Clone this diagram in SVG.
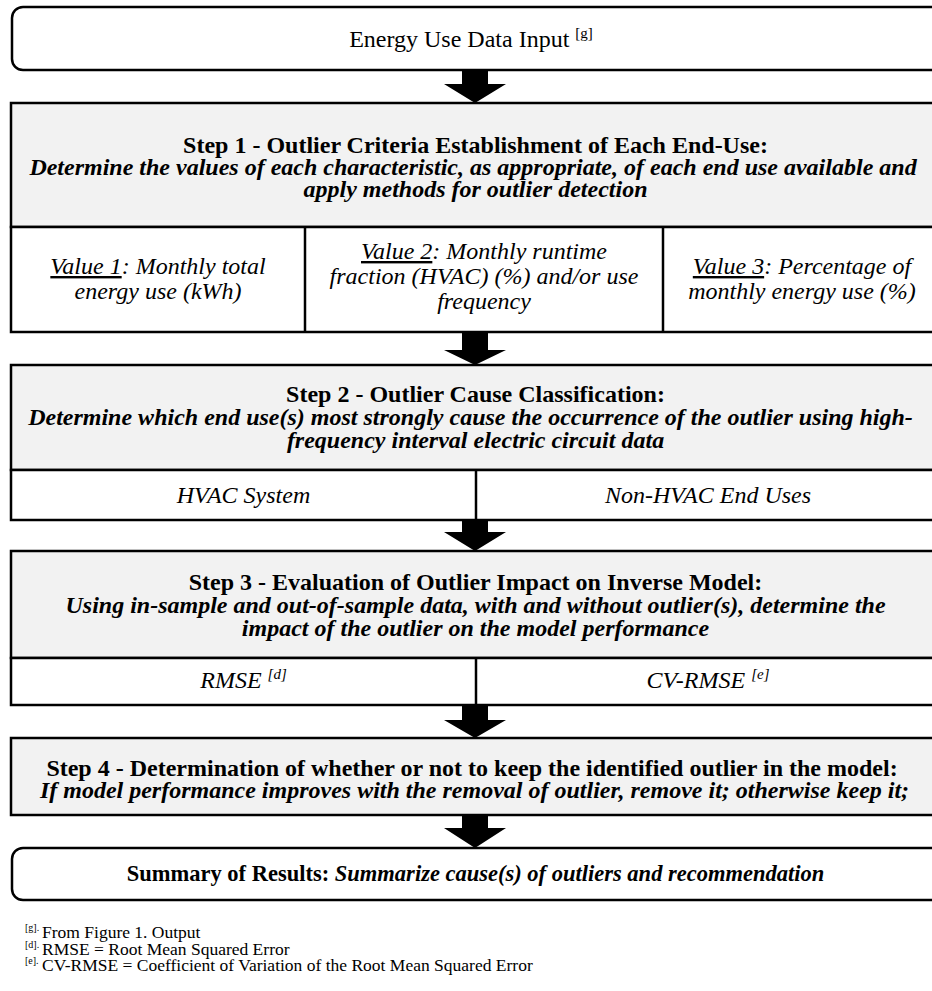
<svg xmlns="http://www.w3.org/2000/svg" width="932" height="991" viewBox="0 0 932 991">
<style>
  .box { stroke: #000; stroke-width: 2.5; }
  .hdr { fill: #f2f2f2; }
  .cell { fill: #ffffff; }
  .div { stroke: #000; stroke-width: 2.5; fill: none; }
  text { font-family: "Liberation Serif", "Times New Roman", serif; font-size: 24px; fill: #000; }
  .b { font-weight: bold; }
  .bi { font-weight: bold; font-style: italic; }
  .i { font-style: italic; }
  .u { text-decoration: underline; }
  .sup { font-size: 15px; }
  .sum { font-size: 22.5px; }
  .fn { font-size: 17.5px; }
  .fsup { font-size: 10px; }
  .arrow { fill: #000; }
</style>
<rect width="932" height="991" fill="#ffffff"/>

<g id="input">
  <rect class="box cell" x="12" y="7" width="932" height="63" rx="11"/>
  <text x="471" y="47" text-anchor="middle">Energy Use Data Input <tspan class="sup" dy="-9">[g]</tspan></text>
</g>

<g id="step1">
  <rect class="box hdr" x="11" y="103" width="932" height="124"/>
  <rect class="box cell" x="11" y="227" width="932" height="105"/>
  <line class="div" x1="305" y1="227" x2="305" y2="332"/>
  <line class="div" x1="663" y1="227" x2="663" y2="332"/>
  <text class="b" x="475.5" y="153" text-anchor="middle">Step 1 - Outlier Criteria Establishment of Each End-Use:</text>
  <text class="bi" x="473" y="175" text-anchor="middle">Determine the values of each characteristic, as appropriate, of each end use available and</text>
  <text class="bi" x="475.5" y="197" text-anchor="middle">apply methods for outlier detection</text>
</g>

<g id="value1">
  <text class="i" x="158" y="274" text-anchor="middle"><tspan class="u">Value 1</tspan>: Monthly total</text>
  <text class="i" x="158" y="299" text-anchor="middle">energy use (kWh)</text>
</g>
<g id="value2">
  <text class="i" x="484" y="259" text-anchor="middle"><tspan class="u">Value 2</tspan>: Monthly runtime</text>
  <text class="i" x="484" y="284" text-anchor="middle">fraction (HVAC) (%) and/or use</text>
  <text class="i" x="484" y="309" text-anchor="middle">frequency</text>
</g>
<g id="value3">
  <text class="i" x="802" y="274" text-anchor="middle"><tspan class="u">Value 3</tspan>: Percentage of</text>
  <text class="i" x="802" y="299" text-anchor="middle">monthly energy use (%)</text>
</g>

<g id="step2">
  <rect class="box hdr" x="11" y="365" width="932" height="105"/>
  <rect class="box cell" x="11" y="470" width="932" height="50"/>
  <line class="div" x1="476" y1="470" x2="476" y2="520"/>
  <text class="b" x="475.5" y="402" text-anchor="middle">Step 2 - Outlier Cause Classification:</text>
  <text class="bi" x="470.5" y="425" text-anchor="middle">Determine which end use(s) most strongly cause the occurrence of the outlier using high-</text>
  <text class="bi" x="475.5" y="448" text-anchor="middle">frequency interval electric circuit data</text>
</g>
<g id="hvac">
  <text class="i" x="243.5" y="503" text-anchor="middle">HVAC System</text>
</g>
<g id="nonhvac">
  <text class="i" x="708" y="503" text-anchor="middle">Non-HVAC End Uses</text>
</g>

<g id="step3">
  <rect class="box hdr" x="11" y="551" width="932" height="107"/>
  <rect class="box cell" x="11" y="658" width="932" height="47"/>
  <line class="div" x1="476" y1="658" x2="476" y2="705"/>
  <text class="b" x="475.5" y="590" text-anchor="middle">Step 3 - Evaluation of Outlier Impact on Inverse Model:</text>
  <text class="bi" x="475.5" y="613" text-anchor="middle">Using in-sample and out-of-sample data, with and without outlier(s), determine the</text>
  <text class="bi" x="475.5" y="636" text-anchor="middle">impact of the outlier on the model performance</text>
</g>
<g id="rmse">
  <text class="i" x="243.5" y="688" text-anchor="middle">RMSE <tspan class="sup" dy="-9">[d]</tspan></text>
</g>
<g id="cvrmse">
  <text class="i" x="708" y="688" text-anchor="middle">CV-RMSE <tspan class="sup" dy="-9">[e]</tspan></text>
</g>

<g id="step4">
  <rect class="box hdr" x="11" y="738" width="932" height="77"/>
  <text class="b" x="472" y="776" text-anchor="middle">Step 4 - Determination of whether or not to keep the identified outlier in the model:</text>
  <text class="bi" x="474.5" y="798" text-anchor="middle">If model performance improves with the removal of outlier, remove it; otherwise keep it;</text>
</g>

<g id="summary">
  <rect class="box cell" x="12" y="848" width="932" height="52" rx="11"/>
  <text class="sum" x="475.5" y="881" text-anchor="middle"><tspan class="b">Summary of Results: </tspan><tspan class="bi">Summarize cause(s) of outliers and recommendation</tspan></text>
</g>

<g id="connectors">
  <polygon class="arrow" points="462,70 488,70 488,84 506,84 475,103 444,84 462,84"/>
  <polygon class="arrow" points="462,332 488,332 488,350 506,350 475,365 444,350 462,350"/>
  <polygon class="arrow" points="462,520 488,520 488,532 506,532 475,551 444,532 462,532"/>
  <polygon class="arrow" points="462,705 488,705 488,720 506,720 475,738 444,720 462,720"/>
  <polygon class="arrow" points="462,815 488,815 488,828 506,828 475,848 444,828 462,828"/>
</g>

<g id="footnotes">
  <text class="fsup" x="25" y="931">[g].</text>
  <text class="fn" x="42" y="938">From Figure 1. Output</text>
  <text class="fsup" x="25" y="947.5">[d].</text>
  <text class="fn" x="42" y="954.5">RMSE = Root Mean Squared Error</text>
  <text class="fsup" x="25" y="964">[e].</text>
  <text class="fn" x="42" y="971">CV-RMSE = Coefficient of Variation of the Root Mean Squared Error</text>
</g>
</svg>
